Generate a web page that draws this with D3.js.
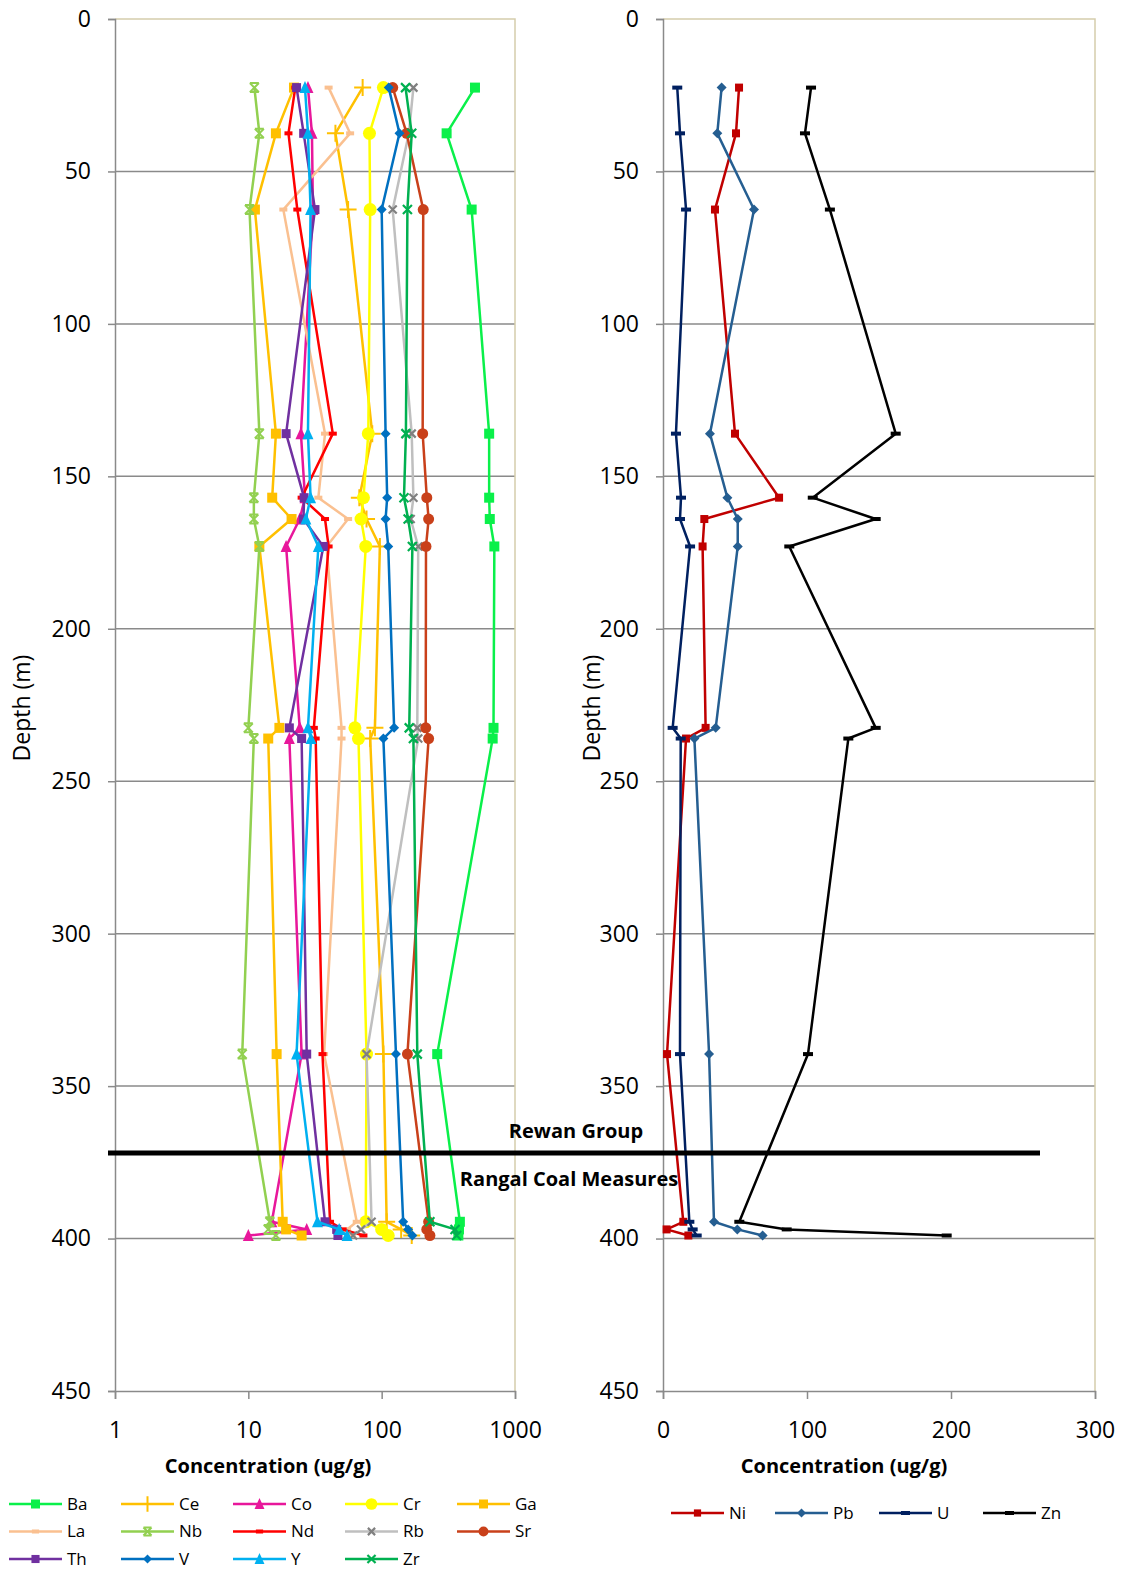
<!DOCTYPE html>
<html><head><meta charset="utf-8">
<script src="https://cdn.jsdelivr.net/npm/d3@7"></script>
<style>
body{margin:0;background:#fff}
text{font-family:"Open Sans","Noto Sans",sans-serif;fill:#000}
</style>
</head><body>
<svg id="chart" width="1125" height="1572"></svg>
<script>
// Sample depths (m)
const depths = [22.5, 37.5, 62.5, 136, 157, 164, 173, 232.5, 236, 339.5, 394.5, 397, 399];

// Trace elements, concentration (ug/g), one value per depth
const ba = [501, 307, 473, 640, 640, 647, 700, 690, 680, 261, 386, 380, 376];
const ce = [72, 45, 56, 85, 68, 77, 97, 89, 82, 103, 109, 140, 168];
const co = [28, 30, 30.5, 24.8, 26.6, 24.3, 19.2, 24.3, 20.3, 25.1, 15, 27.4, 10];
const cr = [103, 81, 82, 79.4, 73, 70, 76, 63, 67, 77, 76, 100, 112];
const ga = [22, 16.1, 11.2, 16.1, 15.1, 21.1, 12.1, 17.1, 14.1, 16.3, 18.1, 19.2, 25.1];
const la = [40, 58, 18.3, 37.6, 33.5, 56, 38.6, 50, 50, 37, 65, 55, 60];
const nb = [11.1, 12.1, 10.2, 12.1, 11, 11, 12.1, 10, 11, 9, 14.5, 14.1, 16.1];
const nd = [22.5, 20, 23.3, 43, 25.1, 37.6, 40, 31, 32, 36, 41, 51, 73];
const rb = [173, 160, 121, 168, 173, 165, 188, 185, 188, 77, 84, 70, 61];
const sr = [121, 154, 205, 203, 218, 225, 215, 214, 225, 156, 225, 218, 230];
const th = [23, 26, 31.6, 19.2, 26.2, 25.9, 36.5, 20.3, 25.1, 27.4, 37.6, 46, 47];
const v  = [113, 136, 100, 107, 110, 107, 112, 124, 103, 128, 145, 158, 170];
const yy = [26.6, 28, 29.3, 28, 29.3, 27, 33.5, 28, 29.5, 23, 33, 48, 55];
const zr = [151, 168, 156, 152, 147, 158, 170, 161, 173, 185, 230, 355, 365];

// Base metals, concentration (ug/g)
const ni = [52.8, 50.7, 36.1, 50, 80.6, 28.7, 27.5, 29.6, 16, 2.8, 14.1, 2.5, 17.6];
const pb = [40.7, 37.7, 63.2, 32.6, 44.7, 51.9, 51.9, 36.6, 21.8, 32, 35.4, 51.6, 69.2];
const u  = [9.9, 11.8, 16.0, 9.0, 12.5, 11.8, 18.8, 6.7, 12.3, 11.8, 18.3, 20.6, 23.4];
const zn = [102.8, 98.6, 115.9, 161.6, 104, 147.7, 87.7, 147.7, 128.7, 100.7, 53, 85.9, 197];

// Axis ticks
const depthTicks = [0, 50, 100, 150, 200, 250, 300, 350, 400, 450];
const logTicks = [1, 10, 100, 1000];
const linTicks = [0, 100, 200, 300];

const leftSeries = [
  {name:"Ba", values:ba, color:"#0AF04A", marker:"square", size:10},
  {name:"Ce", values:ce, color:"#FFC000", marker:"plus", size:17},
  {name:"Co", values:co, color:"#E8179B", marker:"triangle", size:11},
  {name:"Cr", values:cr, color:"#FFFF00", marker:"circle", size:13},
  {name:"Ga", values:ga, color:"#FFC000", marker:"square", size:10},
  {name:"La", values:la, color:"#FAC090", marker:"dash", size:8},
  {name:"Nb", values:nb, color:"#92D050", marker:"star", size:9},
  {name:"Nd", values:nd, color:"#FF0000", marker:"dash", size:8},
  {name:"Rb", values:rb, color:"#BFBFBF", mcolor:"#808080", marker:"x", size:8},
  {name:"Sr", values:sr, color:"#C9401A", marker:"circle", size:11},
  {name:"Th", values:th, color:"#7030A0", marker:"square", size:9},
  {name:"V",  values:v,  color:"#0070C0", marker:"diamond", size:10},
  {name:"Y",  values:yy, color:"#00B0F0", marker:"triangle", size:11},
  {name:"Zr", values:zr, color:"#00B050", marker:"x", size:9}
];
const rightSeries = [
  {name:"Ni", values:ni, color:"#C00000", marker:"square", size:8},
  {name:"Pb", values:pb, color:"#255E91", marker:"diamond", size:10},
  {name:"U",  values:u,  color:"#002060", marker:"dash", size:10},
  {name:"Zn", values:zn, color:"#000000", marker:"dash", size:10}
];

const svg = d3.select("#chart");
const y = d3.scaleLinear().domain([0, 450]).range([19, 1391]);
const xL = d3.scaleLog().domain([1, 1000]).range([115, 515]);
const xR = d3.scaleLinear().domain([0, 300]).range([663, 1095]);

const GRID = "#8a8a8a", BORDER = "#d5cdac";

function drawMarker(g, type, cx, cy, color, s) {
  const h = s / 2;
  switch (type) {
    case "square":
      g.append("rect").attr("x", cx - h).attr("y", cy - h).attr("width", s).attr("height", s).attr("fill", color);
      break;
    case "circle":
      g.append("circle").attr("cx", cx).attr("cy", cy).attr("r", h).attr("fill", color);
      break;
    case "triangle":
      g.append("path").attr("d", `M${cx},${cy - h - 1}L${cx + h},${cy + h}L${cx - h},${cy + h}Z`).attr("fill", color);
      break;
    case "diamond":
      g.append("path").attr("d", `M${cx},${cy - h}L${cx + h},${cy}L${cx},${cy + h}L${cx - h},${cy}Z`).attr("fill", color);
      break;
    case "dash":
      g.append("rect").attr("x", cx - h).attr("y", cy - 2).attr("width", s).attr("height", 4).attr("fill", color);
      break;
    case "plus":
      g.append("path").attr("d", `M${cx - h},${cy}H${cx + h}M${cx},${cy - h}V${cy + h}`)
        .attr("stroke", color).attr("stroke-width", 2).attr("fill", "none");
      break;
    case "x":
      g.append("path").attr("d", `M${cx - h},${cy - h}L${cx + h},${cy + h}M${cx - h},${cy + h}L${cx + h},${cy - h}`)
        .attr("stroke", color).attr("stroke-width", 2.2).attr("fill", "none");
      break;
    case "star":
      g.append("path").attr("d", `M${cx - h},${cy - h}L${cx + h},${cy + h}M${cx - h},${cy + h}L${cx + h},${cy - h}M${cx - h},${cy - h}H${cx + h}M${cx - h},${cy + h}H${cx + h}`)
        .attr("stroke", color).attr("stroke-width", 2).attr("fill", "none");
      break;
  }
}

function drawPanel(x, x0, x1, ticks, fmt, series, yLabelX, titleX) {
  const g = svg.append("g");
  // horizontal gridlines
  g.selectAll("line.grid").data(depthTicks.filter(d => d > 0 && d < 450)).join("line")
    .attr("x1", x0).attr("x2", x1).attr("y1", d => y(d)).attr("y2", d => y(d))
    .attr("stroke", GRID).attr("stroke-width", 1.5);
  // plot-area border (top and right)
  g.append("path").attr("d", `M${x0},${y(0)}H${x1}V${y(450)}`)
    .attr("fill", "none").attr("stroke", BORDER).attr("stroke-width", 1.5);

  const ya = g.append("g").attr("transform", `translate(${x0},0)`)
    .call(d3.axisLeft(y).tickValues(depthTicks).tickSize(7).tickPadding(17));
  const xa = g.append("g").attr("transform", `translate(0,${y(450)})`)
    .call(d3.axisBottom(x).tickValues(ticks).tickFormat(fmt).tickSize(8).tickPadding(23));
  [ya, xa].forEach(a => {
    a.select(".domain").attr("stroke", GRID).attr("stroke-width", 1.5);
    a.selectAll(".tick line").attr("stroke", GRID).attr("stroke-width", 1.5);
    a.selectAll(".tick text").attr("font-size", 23).attr("font-family", "Open Sans").attr("fill", "#000");
  });

  g.append("text").attr("transform", `translate(${yLabelX},708) rotate(-90)`)
    .attr("text-anchor", "middle").attr("font-size", 23).text("Depth (m)");
  g.append("text").attr("x", titleX).attr("y", 1473).attr("text-anchor", "middle")
    .attr("font-size", 20).attr("font-weight", "bold").text("Concentration (ug/g)");

  const line = d3.line().x(d => x(d.v)).y(d => y(d.d)).defined(d => d.v != null);
  series.forEach(s => {
    const pts = depths.map((d, i) => ({d, v: s.values[i]}));
    const sg = g.append("g");
    sg.append("path").datum(pts).attr("d", line).attr("fill", "none")
      .attr("stroke", s.color).attr("stroke-width", 2.5).attr("stroke-linejoin", "round");
    pts.filter(p => p.v != null).forEach(p => drawMarker(sg, s.marker, x(p.v), y(p.d), s.mcolor || s.color, s.size));
  });
}

drawPanel(xL, 115, 515, logTicks, d3.format("d"), leftSeries, 30, 268);
drawPanel(xR, 663, 1095, linTicks, d3.format("d"), rightSeries, 600, 844);

// Formation boundary
svg.append("line").attr("x1", 108).attr("x2", 1040).attr("y1", 1153).attr("y2", 1153)
  .attr("stroke", "#000").attr("stroke-width", 5);
svg.append("text").attr("x", 576).attr("y", 1138).attr("text-anchor", "middle")
  .attr("font-size", 20).attr("font-weight", "bold").text("Rewan Group");
svg.append("text").attr("x", 569).attr("y", 1186).attr("text-anchor", "middle")
  .attr("font-size", 20).attr("font-weight", "bold").text("Rangal Coal Measures");

// Legends
function legendItem(s, lx, ly) {
  const g = svg.append("g");
  g.append("line").attr("x1", lx).attr("x2", lx + 53).attr("y1", ly).attr("y2", ly)
    .attr("stroke", s.color).attr("stroke-width", 2.5);
  drawMarker(g, s.marker, lx + 26.5, ly, s.mcolor || s.color, s.size * 0.9);
  g.append("text").attr("x", lx + 58).attr("y", ly).attr("dy", "0.35em")
    .attr("font-size", 17).text(s.name);
}
leftSeries.forEach((s, i) => legendItem(s, 9 + (i % 5) * 112, 1504 + Math.floor(i / 5) * 27.5));
rightSeries.forEach((s, i) => legendItem(s, 671 + i * 104, 1513));
</script>
</body></html>
